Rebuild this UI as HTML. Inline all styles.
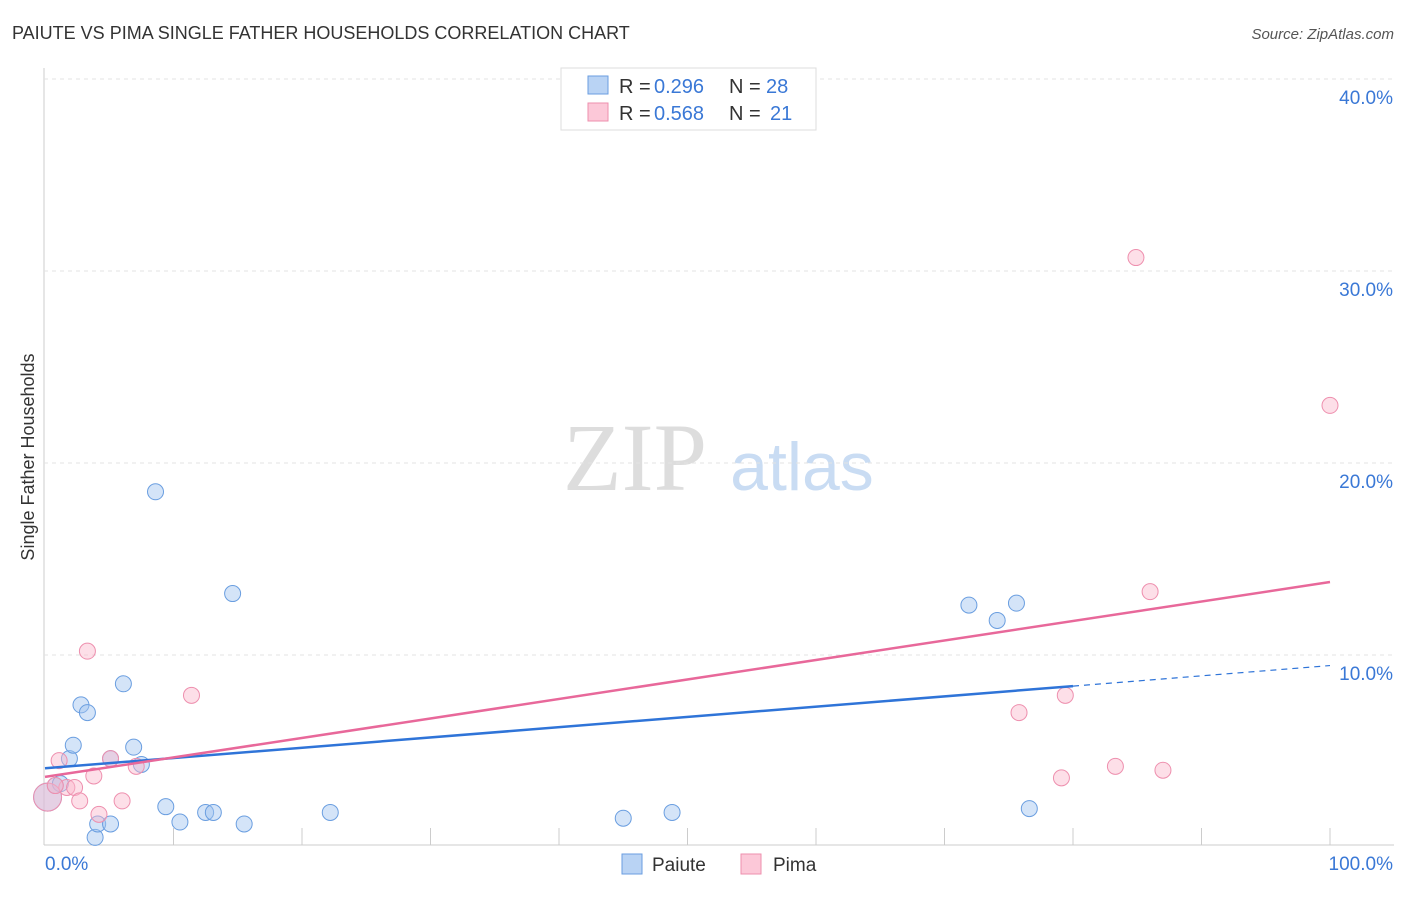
<!DOCTYPE html>
<html><head><meta charset="utf-8"><style>
body{margin:0;background:#fff;font-family:"Liberation Sans",sans-serif;}
</style></head><body>
<svg id="c" width="1406" height="892" font-family="Liberation Sans, sans-serif">
<text x="12" y="39" font-size="18" fill="#333">PAIUTE VS PIMA SINGLE FATHER HOUSEHOLDS CORRELATION CHART</text>
<text x="1394" y="39" font-size="15" fill="#555" text-anchor="end" font-style="italic">Source: ZipAtlas.com</text>
<text x="34" y="457" font-size="18" fill="#333" text-anchor="middle" transform="rotate(-90 34 457)">Single Father Households</text>
<text x="635" y="490" font-size="96" fill="#ddd" text-anchor="middle" style="font-family:'Liberation Serif',serif">ZIP</text>
<text x="802" y="490" font-size="68" fill="#c9dcf3" text-anchor="middle">atlas</text>
<g id="grid"></g><g id="pts"></g><g id="lines"></g>
<g>
<rect x="561" y="68" width="255" height="62" fill="#fff" stroke="#ddd"/>
<rect x="588" y="76" width="20" height="18" fill="#b9d3f4" stroke="#6a9ee0"/>
<rect x="588" y="103" width="20" height="18" fill="#fcc8d8" stroke="#ee8fae"/>
<text x="619" y="93" font-size="20" fill="#333">R =</text>
<text x="654" y="93" font-size="20" fill="#3a78d6">0.296</text>
<text x="729" y="93" font-size="20" fill="#333">N =</text>
<text x="766" y="93" font-size="20" fill="#3a78d6">28</text>
<text x="619" y="120" font-size="20" fill="#333">R =</text>
<text x="654" y="120" font-size="20" fill="#3a78d6">0.568</text>
<text x="729" y="120" font-size="20" fill="#333">N =</text>
<text x="770" y="120" font-size="20" fill="#3a78d6">21</text>
</g>
<g>
<rect x="622" y="854" width="20" height="20" fill="#b9d3f4" stroke="#6a9ee0"/>
<text x="652" y="871" font-size="19" fill="#333">Paiute</text>
<rect x="741" y="854" width="20" height="20" fill="#fcc8d8" stroke="#ee8fae"/>
<text x="773" y="871" font-size="19" fill="#333">Pima</text>
</g>
</svg>
<script>
const yTicks=[10,20,30,40];
const xTickLabels=["0.0%","100.0%"];
const paiuteX=[0.2,0.8,1.2,1.9,2.2,2.8,3.3,3.9,4.1,5.1,5.1,6.1,6.9,7.5,8.6,9.4,10.5,12.5,13.1,14.6,15.5,22.2,45.0,48.8,71.9,74.1,75.6,76.6];
const paiuteY=[2.6,3.2,3.3,4.6,5.3,7.4,7.0,0.5,1.2,1.2,4.6,8.5,5.2,4.3,18.5,2.1,1.3,1.8,1.8,13.2,1.2,1.8,1.5,1.8,12.6,11.8,12.7,2.0];
const pimaX=[0.2,1.1,1.7,2.3,2.7,3.3,3.8,4.2,5.1,6.0,7.1,11.4,75.8,79.1,79.4,83.3,84.9,86.0,87.0,100.0,0.8];
const pimaY=[2.6,4.5,3.1,3.1,2.4,10.2,3.7,1.7,4.6,2.4,4.2,7.9,7.0,3.6,7.9,4.2,30.7,13.3,4.0,23.0,3.2];
const blueLine=[4.1,0.0535,80];
const pinkLine=[3.65,0.1015];
const X=v=>45+v*12.85, Y=v=>847-v*19.2;
const ns="http://www.w3.org/2000/svg";
function mk(t,a,p){const e=document.createElementNS(ns,t);for(const k in a)e.setAttribute(k,a[k]);p.appendChild(e);return e;}
const g=document.getElementById('grid');
mk('line',{x1:44,y1:68,x2:44,y2:845,stroke:'#ccc'},g);
mk('line',{x1:44,y1:845,x2:1394,y2:845,stroke:'#ccc'},g);
for(const t of yTicks){
 const l=mk('line',{x1:44,y1:Y(t),x2:1394,y2:Y(t),stroke:'#e3e3e3','stroke-dasharray':'4,4'},g);
 
 
 const tx=mk('text',{x:1393,y:Y(t)+25,'font-size':19,fill:'#3a78d6','text-anchor':'end'},g);tx.textContent=t.toFixed(1)+'%';
 
 
}
for(let i=1;i<=10;i++){mk('line',{x1:X(i*10),y1:828,x2:X(i*10),y2:845,stroke:'#ccc'},g);}
const a=mk('text',{x:45,y:870,'font-size':19,fill:'#3a78d6'},g);a.textContent=xTickLabels[0];


const b=mk('text',{x:1393,y:870,'font-size':19,fill:'#3a78d6','text-anchor':'end'},g);b.textContent=xTickLabels[1];


const p=document.getElementById('pts');
paiuteX.forEach((x,i)=>{const c=mk('circle',{cx:X(x),cy:Y(paiuteY[i]),r:i==0?14:8,fill:'rgba(160,195,240,0.45)',stroke:'#6a9ee0','stroke-width':1},p);
 
 });
pimaX.forEach((x,i)=>{const c=mk('circle',{cx:X(x),cy:Y(pimaY[i]),r:i==0?14:8,fill:'rgba(250,185,205,0.45)',stroke:'#ee8fae','stroke-width':1},p);
 
 });
const L=document.getElementById('lines');
let l1=mk('line',{x1:X(0),y1:Y(blueLine[0]),x2:X(blueLine[2]),y2:Y(blueLine[0]+blueLine[1]*blueLine[2]),stroke:'#2f74d8','stroke-width':2.5},L);


let l2=mk('line',{x1:X(blueLine[2]),y1:Y(blueLine[0]+blueLine[1]*blueLine[2]),x2:X(100),y2:Y(blueLine[0]+blueLine[1]*100),stroke:'#2f74d8','stroke-width':1.2,'stroke-dasharray':'6,5'},L);


let l3=mk('line',{x1:X(0),y1:Y(pinkLine[0]),x2:X(100),y2:Y(pinkLine[0]+pinkLine[1]*100),stroke:'#e8689a','stroke-width':2.5},L);


</script>
</body></html>
